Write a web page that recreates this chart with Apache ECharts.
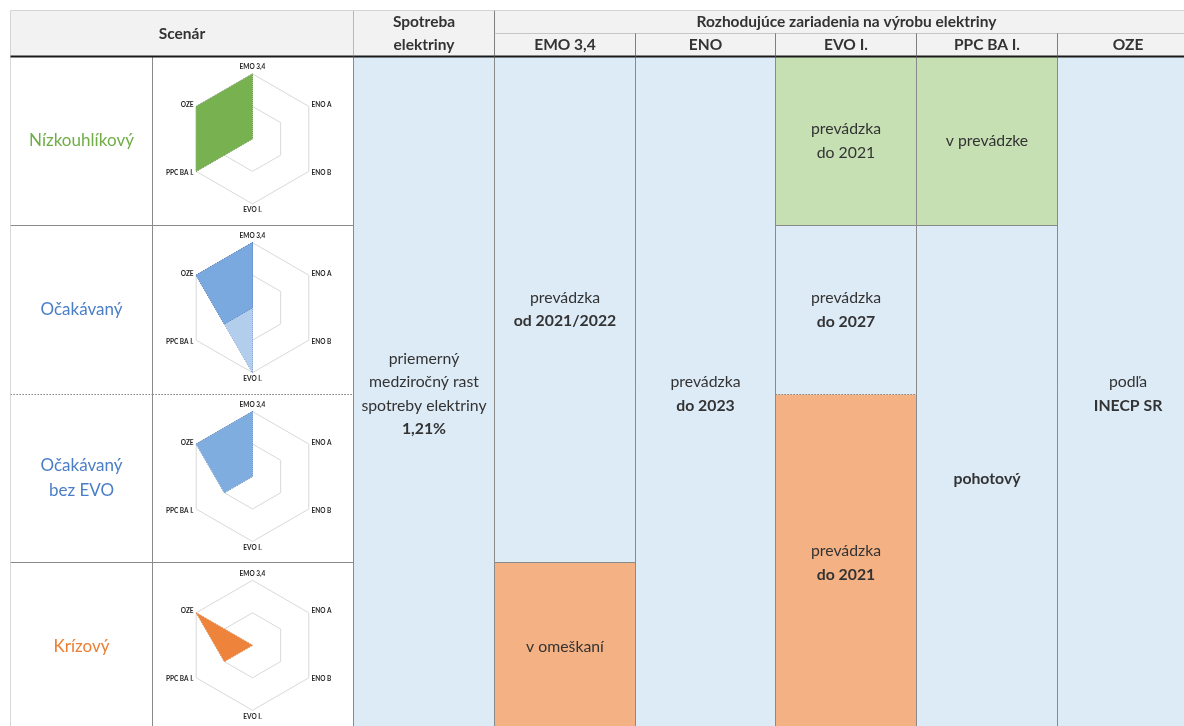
<!DOCTYPE html>
<html>
<head>
<meta charset="utf-8">
<title>Scenáre vývoja elektrizačnej sústavy</title>
<script src="https://cdn.jsdelivr.net/npm/echarts@6/dist/echarts.min.js"></script>
<style>
  html, body { margin: 0; padding: 0; background: #ffffff; }
  #chart { width: 1184px; height: 726px; }
</style>
</head>
<body>
<div id="chart"></div>
<script>
// ---- data ----
const scenarios = ['Nízkouhlíkový', 'Očakávaný', 'Očakávaný\nbez EVO', 'Krízový'];
const scenarioHeader = 'Scenár';
const columns = ['Spotreba\nelektriny', 'EMO 3,4', 'ENO', 'EVO I.', 'PPC BA I.', 'OZE'];
const groupTitle = 'Rozhodujúce zariadenia na výrobu elektriny';

// radar axes, listed counterclockwise from the top
const radarAxes = ['EMO 3,4', 'OZE', 'PPC BA I.', 'EVO I.', 'ENO B', 'ENO A'];
// one or more layers per scenario (0 = mimo, 0.5 = čiastočne, 1 = plne)
const radarLowCarbon = [[1, 1, 1, 0, 0, 0]];
const radarExpected = [[1, 1, 0.5, 1, 0, 0], [1, 1, 0.5, 0, 0, 0]];
const radarExpectedNoEvo = [[1, 1, 0.5, 0, 0, 0]];
const radarCrisis = [[0, 1, 0.5, 0, 0, 0]];
const radarValues = [radarLowCarbon, radarExpected, radarExpectedNoEvo, radarCrisis];

// body cells: [column, first row, end row, state, plain text, bold text]
const cells = [
  [0, 0, 4, 'base', 'priemerný\nmedziročný rast\nspotreby elektriny', '1,21%'],
  [1, 0, 3, 'base', 'prevádzka', 'od 2021/2022'],
  [1, 3, 4, 'late', 'v omeškaní', ''],
  [2, 0, 4, 'base', 'prevádzka', 'do 2023'],
  [3, 0, 1, 'ok', 'prevádzka\ndo 2021', ''],
  [3, 1, 2, 'base', 'prevádzka', 'do 2027'],
  [3, 2, 4, 'late', 'prevádzka', 'do 2021'],
  [4, 0, 1, 'ok', 'v prevádzke', ''],
  [4, 1, 4, 'base', '', 'pohotový'],
  [5, 0, 4, 'base', 'podľa', 'INECP SR']
];

// ---- layout & style ----
const FONT = 'Lato, "Open Sans", "Liberation Sans", sans-serif';
const L = { left: 10, nameW: 142, radarW: 201, colW: 140.83, top: 10, headH: 46, rowH: 168.8 };
const bodyTop = L.top + L.headH;
const dataLeft = L.left + L.nameW + L.radarW;
const stateFill = { base: '#ddebf7', ok: '#c6e0b4', late: '#f4b183' };
const nameColors = ['#70ad47', '#4a7ec7', '#4a7ec7', '#ed7d31'];
const lineGray = '#8a8a8a';
// row boundaries 0..4: style of the horizontal rule at that boundary
const rowRule = ['solid', 'solid', 'dotted', 'solid', 'solid'];
const radarLayerStyles = [
  [{ fill: '#70ad47', line: '#4e7f2f' }],
  [{ fill: '#aecbeb', line: '#2f5fa7' }, { fill: '#76a7dd', line: '#2f5fa7' }],
  [{ fill: '#78a9de', line: '#2f5fa7' }],
  [{ fill: '#ed7d31', line: '#c55a11' }]
];

function hLine(x1, x2, y, stroke, width, dash) {
  return { type: 'line', shape: { x1: x1, y1: y, x2: x2, y2: y },
    style: { stroke: stroke, lineWidth: width, lineDash: dash === 'dotted' ? [1.5, 1.5] : null } };
}
function vLine(x, y1, y2, stroke, width) {
  return { type: 'line', shape: { x1: x, y1: y1, x2: x, y2: y2 }, style: { stroke: stroke, lineWidth: width } };
}
function richText(plain, bold, size) {
  const parts = [];
  if (plain) parts.push('{n|' + plain + '}');
  if (bold) parts.push('{b|' + bold + '}');
  return {
    text: parts.join('\n'),
    align: 'center', verticalAlign: 'middle',
    rich: {
      n: { fontFamily: FONT, fontSize: size, lineHeight: 23.5, color: '#1e1e1e' },
      b: { fontFamily: FONT, fontSize: size, fontWeight: 'bold', lineHeight: 23.5, color: '#1e1e1e' }
    }
  };
}

// ---- body cells (Spotreba ... OZE) ----
function renderBodyCell(params, api) {
  const c = cells[params.dataIndex];
  const p0 = api.coord([api.value(0), api.value(1)]);
  const p1 = api.coord([api.value(0) + 1, api.value(2)]);
  const x = Math.round(p0[0]) + 0.5, y = Math.round(p0[1]) + 0.5;
  const x2 = Math.round(p1[0]) + 0.5, y2 = Math.round(p1[1]) + 0.5;
  return {
    type: 'group',
    children: [
      { type: 'rect', shape: { x: x, y: y, width: x2 - x, height: y2 - y }, style: { fill: stateFill[c[3]] },
        textContent: { style: richText(c[4], c[5], 15.8) }, textConfig: { position: 'inside' } },
      hLine(x, x2, y, lineGray, 1, rowRule[c[1]]),
      hLine(x, x2, y2, lineGray, 1, rowRule[c[2]]),
      vLine(x, y, y2, lineGray, 1),
      vLine(x2, y, y2, lineGray, 1)
    ]
  };
}

// ---- scenario name cells ----
function renderNameCell(params, api) {
  const r = params.dataIndex;
  const p0 = api.coord([0, api.value(0)]);
  const p1 = api.coord([1, api.value(0) + 1]);
  const x = Math.round(p0[0]) + 0.5, y = Math.round(p0[1]) + 0.5;
  const x2 = Math.round(p1[0]) + 0.5, y2 = Math.round(p1[1]) + 0.5;
  return {
    type: 'group',
    children: [
      { type: 'rect', shape: { x: x, y: y, width: x2 - x, height: y2 - y }, style: { fill: '#ffffff' },
        textContent: { style: { text: scenarios[r], fontFamily: FONT, fontSize: 17, lineHeight: 25,
          fill: nameColors[r], align: 'center', verticalAlign: 'middle' } },
        textConfig: { position: 'inside' } },
      hLine(x, x2, y, lineGray, 1, rowRule[r]),
      hLine(x, x2, y2, lineGray, 1, rowRule[r + 1]),
      vLine(x, y, y2, '#d9d9d9', 1),
      vLine(x2, y, y2, lineGray, 1)
    ]
  };
}

// ---- radar frame cells ----
function renderRadarCell(params, api) {
  const r = params.dataIndex;
  const p0 = api.coord([0, api.value(0)]);
  const p1 = api.coord([1, api.value(0) + 1]);
  const x = Math.round(p0[0]) + 0.5, y = Math.round(p0[1]) + 0.5;
  const x2 = Math.round(p1[0]) + 0.5, y2 = Math.round(p1[1]) + 0.5;
  return {
    type: 'group',
    children: [
      hLine(x, x2, y, lineGray, 1, rowRule[r]),
      hLine(x, x2, y2, lineGray, 1, rowRule[r + 1]),
      vLine(x2, y, y2, lineGray, 1)
    ]
  };
}

// ---- header cells: [x from, x to, row from, row to, text] ----
const headerCells = [[0, 1, 0, 2, columns[0]], [1, 6, 0, 1, groupTitle]]
  .concat(columns.slice(1).map((name, i) => [i + 1, i + 2, 1, 2, name]));

function renderHeaderCell(params, api) {
  const h = headerCells[params.dataIndex];
  const p0 = api.coord([h[0], h[2]]);
  const p1 = api.coord([h[1], h[3]]);
  const x = Math.round(p0[0]) + 0.5, y = Math.round(p0[1]) + 0.5;
  const x2 = Math.round(p1[0]) + 0.5, y2 = Math.round(p1[1]) + 0.5;
  const children = [
    { type: 'rect', shape: { x: x, y: y, width: x2 - x, height: y2 - y }, style: { fill: '#f2f2f2' },
      textContent: { style: richText('', h[4], 15.5) }, textConfig: { position: 'inside' } },
    vLine(x, y, y2, '#7f7f7f', 1),
    vLine(x2, y, y2, '#7f7f7f', 1)
  ];
  if (h[2] === 0) children.push(hLine(x, x2, y, '#d4d4d4', 1));
  if (h[3] === 2) children.push({ type: 'line', shape: { x1: x, y1: y2, x2: x2, y2: y2 }, style: { stroke: '#1a1a1a', lineWidth: 2 } });
  else children.push(hLine(x, x2, y2, '#9a9a9a', 1));
  return { type: 'group', children: children };
}

function renderScenarioHeader(params, api) {
  const p0 = api.coord([0, 0]);
  const p1 = api.coord([1, 1]);
  const x = Math.round(p0[0]) + 0.5, y = Math.round(p0[1]) + 0.5;
  const x2 = Math.round(p1[0]) + 0.5, y2 = Math.round(p1[1]) + 0.5;
  return {
    type: 'group',
    children: [
      { type: 'rect', shape: { x: x, y: y, width: x2 - x, height: y2 - y }, style: { fill: '#f2f2f2' },
        textContent: { style: richText('', scenarioHeader, 15.5) }, textConfig: { position: 'inside' } },
      hLine(x, x2, y, '#d4d4d4', 1),
      vLine(x, y, y2, '#d4d4d4', 1),
      { type: 'line', shape: { x1: x, y1: y2, x2: x2, y2: y2 }, style: { stroke: '#1a1a1a', lineWidth: 2 } }
    ]
  };
}

// ---- grids ----
const gridDefs = [
  { left: dataLeft, top: bodyTop, width: L.colW * 6, height: L.rowH * 4, x: [0, 6], y: [0, 4] },          // body
  { left: L.left, top: bodyTop, width: L.nameW, height: L.rowH * 4, x: [0, 1], y: [0, 4] },               // names
  { left: L.left + L.nameW, top: bodyTop, width: L.radarW, height: L.rowH * 4, x: [0, 1], y: [0, 4] },    // radar frames
  { left: dataLeft, top: L.top, width: L.colW * 6, height: L.headH, x: [0, 6], y: [0, 2] },               // header
  { left: L.left, top: L.top, width: L.nameW + L.radarW, height: L.headH, x: [0, 1], y: [0, 1] }          // scenario header
];

const option = {
  animation: false,
  backgroundColor: '#ffffff',
  grid: gridDefs.map(g => ({ left: g.left, top: g.top, width: g.width, height: g.height,
    containLabel: false, outerBoundsMode: 'none' })),
  xAxis: gridDefs.map((g, i) => ({ type: 'value', gridIndex: i, min: g.x[0], max: g.x[1], show: false })),
  yAxis: gridDefs.map((g, i) => ({ type: 'value', gridIndex: i, min: g.y[0], max: g.y[1], inverse: true, show: false })),
  radar: radarValues.map((v, i) => ({
    center: [L.left + L.nameW + L.radarW / 2, bodyTop + L.rowH * (i + 0.5) - 1.5],
    radius: 65,
    startAngle: 90,
    splitNumber: 2,
    shape: 'polygon',
    nameGap: 3,
    indicator: radarAxes.map(n => ({ name: n, min: 0, max: 1 })),
    axisName: { color: '#262626', fontSize: 6.5, fontWeight: 'bold', fontFamily: FONT },
    splitLine: { lineStyle: { color: '#d9d9d9', width: 1 } },
    splitArea: { show: false },
    axisLine: { show: false },
    axisTick: { show: false },
    axisLabel: { show: false }
  })),
  series: [
    { type: 'custom', xAxisIndex: 0, yAxisIndex: 0, renderItem: renderBodyCell, silent: true,
      data: cells.map(c => [c[0], c[1], c[2]]), z: 1 },
    { type: 'custom', xAxisIndex: 1, yAxisIndex: 1, renderItem: renderNameCell, silent: true,
      data: scenarios.map((s, i) => [i]), z: 1 },
    { type: 'custom', xAxisIndex: 2, yAxisIndex: 2, renderItem: renderRadarCell, silent: true,
      data: scenarios.map((s, i) => [i]), z: 1 },
    { type: 'custom', xAxisIndex: 3, yAxisIndex: 3, renderItem: renderHeaderCell, silent: true,
      data: headerCells.map(h => [h[0], h[2]]), z: 3 },
    { type: 'custom', xAxisIndex: 4, yAxisIndex: 4, renderItem: renderScenarioHeader, silent: true,
      data: [[0, 0]], z: 3 }
  ]
};

radarValues.forEach((layers, i) => {
  layers.forEach((vals, j) => {
    const st = radarLayerStyles[i][j];
    option.series.push({
      type: 'radar',
      radarIndex: i,
      silent: true,
      symbol: 'none',
      z: 2 + j * 0.1,
      lineStyle: { color: st.line, width: 1, type: 'dotted' },
      areaStyle: { color: st.fill, opacity: 0.95 },
      data: [{ value: vals }]
    });
  });
});

const chart = echarts.init(document.getElementById('chart'), null, { renderer: 'canvas' });
chart.setOption(option);
</script>
</body>
</html>
